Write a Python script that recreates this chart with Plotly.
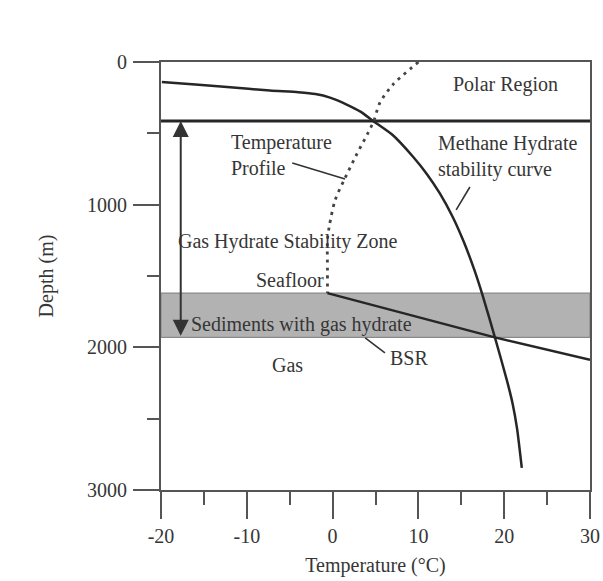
import plotly.graph_objects as go

# ---- data ----
stab_temp = [-19.9, -16.0, -12.3, -7.3, -4.0, -2.0, -0.3, 1.7, 3.3, 4.7, 7.0, 9.4, 11.0, 12.5, 14.0, 15.3, 16.5, 17.5, 18.9, 20.3, 21.0, 21.5, 22.05]
stab_depth = [140, 158, 175, 200, 212, 225, 250, 300, 350, 413, 512, 666, 786, 921, 1086, 1262, 1454, 1639, 1927, 2228, 2400, 2570, 2845]

prof_temp = [10.0, 7.0, 5.5, 4.8, 4.1, 2.7, 1.4, 0.3, -0.4, -0.6, -0.6, -0.6]
prof_depth = [0, 161, 287, 413, 500, 660, 820, 967, 1156, 1250, 1450, 1620]

geo_temp = [-0.6, 18.9, 30.0]
geo_depth = [1620, 1930, 2088]

ghsz_top = 413          # top of gas hydrate stability zone (m)
band_top = 1620         # seafloor depth (m)
band_bottom = 1930      # BSR depth (m)
arrow_temp = -17.7      # x position of the GHSZ double arrow

x_tickvals = [-20, -10, 0, 10, 20, 30]
x_ticktext = ["-20", "-10", "0", "10", "20", "30"]
y_tickvals = [0, 1000, 2000, 3000]
y_ticktext = ["0", "1000", "2000", "3000"]

# leader lines for labels
lead_profile_x = [-4.7, 1.45]
lead_profile_y = [708, 820]
lead_stab_x = [16.0, 14.4]
lead_stab_y = [876, 1037]
lead_bsr_x = [3.8, 6.1]
lead_bsr_y = [1934, 2039]

labels = [
    ("Polar Region", 20.2, 161, "center"),
    ("Methane Hydrate<br>stability curve", 12.0, 660, "left"),
    ("Temperature<br>Profile", -12.1, 655, "left"),
    ("Gas Hydrate Stability Zone", -18.3, 1261, "left"),
    ("Seafloor", -0.8, 1530, "right"),
    ("Sediments with gas hydrate", -16.7, 1843, "left"),
    ("Gas", -5.3, 2125, "center"),
    ("BSR", 8.9, 2074, "center"),
]

FONT = "Liberation Serif, Times New Roman, serif"
TXT = "#363636"
LINE = "#262626"
AX = "#555555"
FS = 20

fig = go.Figure()

# gray band: sediments with gas hydrate
fig.add_shape(type="rect", xref="x", yref="y", x0=-20, x1=30, y0=band_top, y1=band_bottom,
              fillcolor="#b2b2b2", line=dict(color="#8a8a8a", width=1.2), layer="below")

# top of GHSZ horizontal line
fig.add_trace(go.Scatter(x=[-20, 30], y=[ghsz_top, ghsz_top], mode="lines",
                         line=dict(color=LINE, width=3), hoverinfo="skip"))
# stability curve
fig.add_trace(go.Scatter(x=stab_temp, y=stab_depth, mode="lines", line_shape="spline",
                         line=dict(color=LINE, width=2.5, smoothing=0.6), hoverinfo="skip"))
# temperature profile (dotted)
fig.add_trace(go.Scatter(x=prof_temp, y=prof_depth, mode="lines", line_shape="spline",
                         line=dict(color="#444444", width=2.8, dash="3px,5px", smoothing=0.8), hoverinfo="skip"))
# geotherm below seafloor
fig.add_trace(go.Scatter(x=geo_temp, y=geo_depth, mode="lines",
                         line=dict(color=LINE, width=2.5), hoverinfo="skip"))
# leader lines
for lx, ly in [(lead_profile_x, lead_profile_y), (lead_stab_x, lead_stab_y), (lead_bsr_x, lead_bsr_y)]:
    fig.add_trace(go.Scatter(x=lx, y=ly, mode="lines", line=dict(color="#333333", width=1.6), hoverinfo="skip"))

# double arrow for GHSZ
fig.add_annotation(x=arrow_temp, y=ghsz_top, ax=arrow_temp, ay=band_bottom, xref="x", yref="y",
                   axref="x", ayref="y", text="", showarrow=True, arrowhead=2, arrowside="end+start",
                   arrowsize=1.6, arrowwidth=2, arrowcolor="#333333", standoff=0, startstandoff=0)

for txt, x, y, anchor in labels:
    fig.add_annotation(x=x, y=y, xref="x", yref="y", text=txt, showarrow=False,
                       xanchor=anchor, yanchor="middle", align="left",
                       font=dict(family=FONT, size=FS, color=TXT))

fig.update_layout(
    width=603, height=581,
    margin=dict(l=161, r=13, t=62, b=91),
    paper_bgcolor="white", plot_bgcolor="white",
    showlegend=False,
    font=dict(family=FONT, size=FS, color=TXT),
)
fig.update_xaxes(range=[-20, 30], tickvals=x_tickvals, ticktext=x_ticktext, automargin=False,
                 showgrid=False, zeroline=False, showline=True, mirror=True,
                 linecolor=AX, linewidth=2, ticks="outside", ticklen=27, tickwidth=2, tickcolor=AX,
                 minor=dict(dtick=5, tick0=-20, ticks="outside", ticklen=13, tickwidth=2, tickcolor=AX, showgrid=False),
                 tickfont=dict(family=FONT, size=FS, color=TXT),
                 title=dict(text="Temperature (°C)", standoff=12, font=dict(family=FONT, size=FS, color=TXT)))
fig.update_yaxes(range=[3000, 0], tickvals=y_tickvals, ticktext=y_ticktext, automargin=False,
                 showgrid=False, zeroline=False, showline=True, mirror=True,
                 linecolor=AX, linewidth=2, ticks="outside", ticklen=26, tickwidth=2, tickcolor=AX,
                 minor=dict(dtick=500, tick0=0, ticks="outside", ticklen=12, tickwidth=2, tickcolor=AX, showgrid=False),
                 tickfont=dict(family=FONT, size=FS, color=TXT), ticklabelstandoff=2,
                 title=dict(text="Depth (m)", standoff=28, font=dict(family=FONT, size=FS, color=TXT)))

# remove the page's default body margin so the 603x581 figure fills the window exactly
fig.write_html("out.html", config={"displayModeBar": False},
               post_script="document.body.style.margin='0px';document.body.style.overflow='hidden';")
